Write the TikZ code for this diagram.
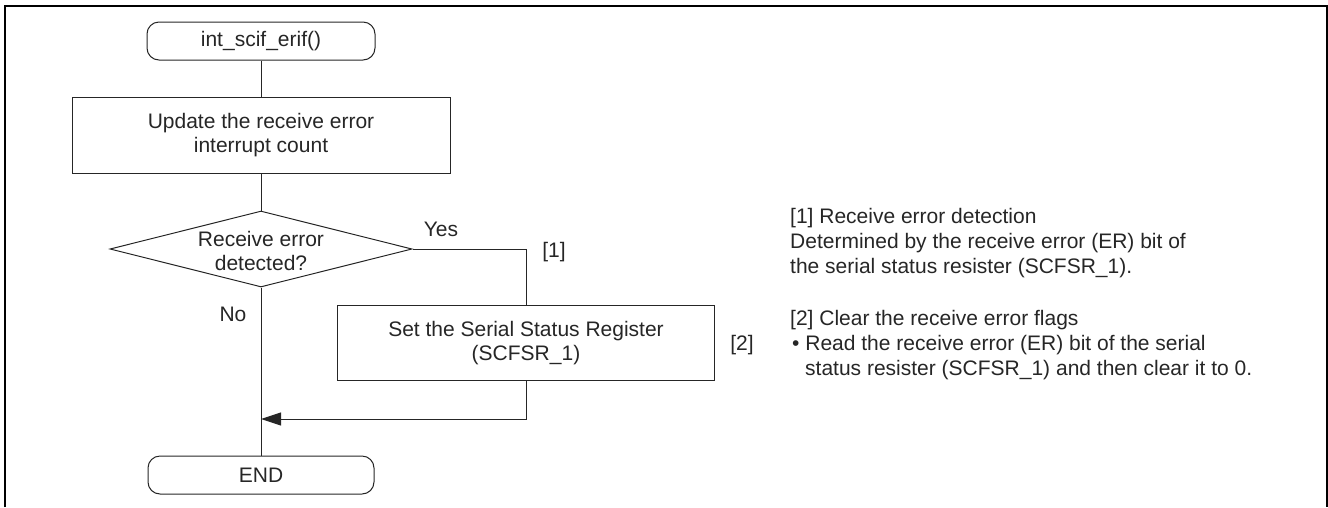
\documentclass[tikz,border=0pt]{standalone}
\usepackage{fontspec}
\setmainfont{Liberation Sans}
\usetikzlibrary{shapes.geometric,arrows.meta}
\begin{document}
\begin{tikzpicture}[x=1pt,y=-1pt,
  every node/.style={font=\fontsize{21}{24.5}\selectfont, text=black!85},
  line/.style={draw=black!85, line width=1pt},
  term/.style={line, rounded corners=12pt, minimum width=228pt, minimum height=38pt, inner sep=0pt},
  proc/.style={line, minimum height=76pt, inner sep=0pt, align=center},
  decis/.style={line, diamond, minimum width=302pt, minimum height=76pt, inner sep=0pt},
  lbl/.style={inner sep=0pt, anchor=base},
  note/.style={inner sep=0pt, anchor=base west}
]
\useasboundingbox (0,0) rectangle (1328,507);
\draw[line width=2pt] (5,507) -- (5,6) -- (1327,6) -- (1327,507);

\node[term] (start) at (261,41) {int\_scif\_erif()};
\node[proc, minimum width=378pt] (upd) at (261,135) {Update the receive error\\interrupt count};
\node[decis] (chk) at (261,249) {};
\node[inner sep=0pt, align=center] (chkt) at (261,251) {Receive error\\detected?};
\node[proc, minimum width=377pt, minimum height=75pt] (set) at (526,343) {Set the Serial Status Register\\(SCFSR\_1)};
\node[term, minimum width=226pt] (end) at (261,475) {END};
\coordinate (yc) at (526,249);
\coordinate (mc) at (526,419);
\coordinate (jn) at (261,419);

\draw[line] (start) -- (upd);
\draw[line] (upd) -- (chk);
\draw[line] (chk.east) -- (yc) -- (set.north);
\draw[line] (chk.south) -- (end.north);
\draw[line, -{Triangle[length=20pt,width=13pt]}] (set.south) -- (mc) -- (jn);

\node[lbl] (yes) at (441,236) {Yes};
\node[lbl] (no) at (233,321) {No};
\node[lbl] (n1) at (554,257) {[1]};
\node[lbl] (n2) at (742,350) {[2]};

\node[note] (t1) at (790,223) {[1] Receive error detection};
\node[note] (t2) at (790,248) {Determined by the receive error (ER) bit of};
\node[note] (t3) at (790,273) {the serial status resister (SCFSR\_1).};
\node[note] (t4) at (790,325) {[2] Clear the receive error flags};
\node[note] (t5) at (792,350) {\char"2022\ Read the receive error (ER) bit of the serial};
\node[note] (t6) at (805,375) {status resister (SCFSR\_1) and then clear it to 0.};
\end{tikzpicture}
\end{document}
